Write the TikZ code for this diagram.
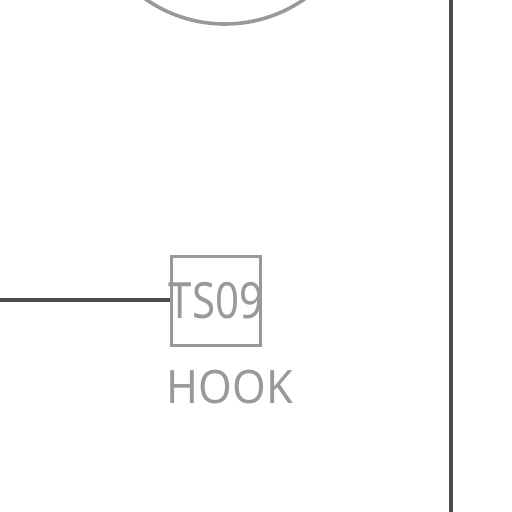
\documentclass[tikz,border=0pt]{standalone}
\usepackage{fontspec}
\setmainfont{Noto Sans}
\definecolor{lightgrey}{HTML}{999999}
\definecolor{darkgrey}{HTML}{4D4D4D}
\begin{document}
\begin{tikzpicture}[x=1pt,y=1pt,
  greyline/.style={draw=lightgrey,line width=3.6pt},
  darkline/.style={draw=darkgrey,line width=3.4pt},
  boxstyle/.style={greyline,minimum width=89pt,minimum height=89pt,inner sep=0pt},
  lbl/.style={text=lightgrey,inner sep=0pt}]
\useasboundingbox (0,0) rectangle (512,-512);
\begin{scope}
\clip (0,0) rectangle (512,-512);
\draw[greyline] (225,115) circle (139);
\node[boxstyle] (box) at (216,-301) {};
\coordinate (L) at (-2,-300);
\draw[darkline] (L) -- (box.west |- L);
\coordinate (T) at (451,2);
\coordinate (B) at (451,-514);
\draw[darkline] (T) -- (B);
\node[lbl,anchor=base,xscale=0.84,font=\fontsize{50}{50}\selectfont] (ts) at (216,-318) {TS09};
\node[lbl,anchor=base,xscale=0.94,font=\fontsize{46}{46}\selectfont] (hook) at (230,-403) {HOOK};
\end{scope}
\end{tikzpicture}
\end{document}
